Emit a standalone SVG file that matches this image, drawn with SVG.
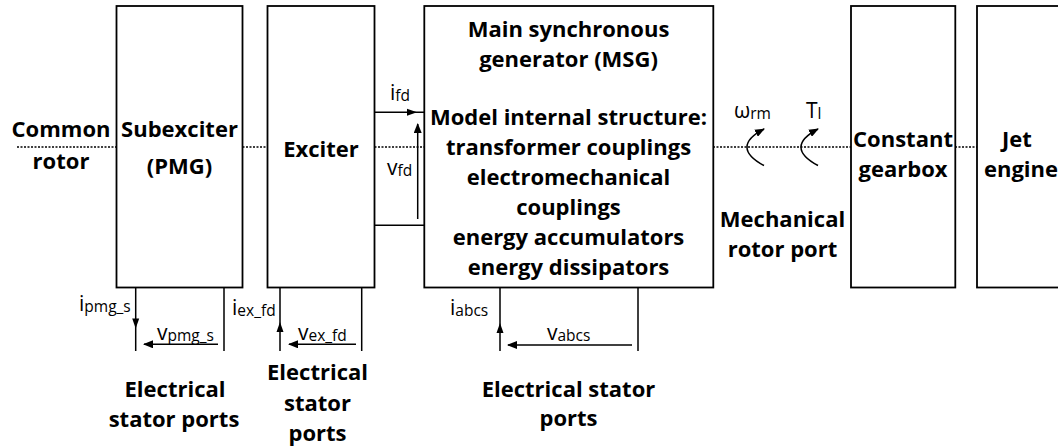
<svg xmlns="http://www.w3.org/2000/svg" width="1058" height="448" viewBox="0 0 1058 448">
<defs>
<style>
.box{fill:#fff;stroke:#000;stroke-width:1.8}
.t{font-family:"Open Sans","Liberation Sans",sans-serif;font-weight:bold;font-size:22px;fill:#000;text-anchor:middle}
.s{font-family:"Open Sans","Liberation Sans",sans-serif;font-size:21px;fill:#000}
.sub{font-size:15.5px}
.ln{stroke:#000;stroke-width:1.5;fill:none}
.dot{stroke:#000;stroke-width:1.3;stroke-dasharray:2 1.5;fill:none}
.ah{fill:#000}
</style>
<marker id="arr" viewBox="0 0 10 8" refX="9" refY="4" markerWidth="10" markerHeight="8" markerUnits="userSpaceOnUse" orient="auto">
<path d="M0,0 L10,4 L0,8 Z" fill="#000"/>
</marker>
</defs>
<rect width="1058" height="448" fill="#fff"/>
<g id="connectors">
<path class="dot" d="M17,147 H116.5 M242.5,147 H267.5 M374.5,147 H424 M713,147 H851 M955,147 H977"/>
<path class="ln" d="M374.5,112.3 H424 M374.5,225.3 H424"/>
<path class="ah" d="M417,112.3 L407,108.8 L407,115.8 Z"/>
<path class="ln" d="M417.7,219 V124" marker-end="url(#arr)"/>
<path class="ln" d="M135.7,287.5 V351 M224,287.5 V351"/>
<path class="ah" d="M135.7,328.5 L132.2,318.5 L139.2,318.5 Z"/>
<path class="ln" d="M218,344.3 H144" marker-end="url(#arr)"/>
<path class="ln" d="M280,287.5 V351 M361.7,287.5 V351"/>
<path class="ah" d="M280,322 L276.5,332 L283.5,332 Z"/>
<path class="ln" d="M356,344.3 H289" marker-end="url(#arr)"/>
<path class="ln" d="M500,287.5 V351 M638,287.5 V351"/>
<path class="ah" d="M500,323 L496.5,333 L503.5,333 Z"/>
<path class="ln" d="M632,345 H508" marker-end="url(#arr)"/>
<path class="ln" d="M764,165.5 Q730,147 764,129" marker-end="url(#arr)"/>
<path class="ln" d="M818,165.5 Q784,147 818,129" marker-end="url(#arr)"/>
</g>
<g id="common-rotor">
<text class="t" x="61" y="136.7">Common</text>
<text class="t" x="61" y="169">rotor</text>
</g>
<g id="subexciter">
<rect class="box" x="116.5" y="6" width="126" height="281.5"/>
<text class="t" x="179.5" y="136.7">Subexciter</text>
<text class="t" x="179.5" y="174">(PMG)</text>
</g>
<g id="exciter">
<rect class="box" x="267.5" y="6" width="107" height="281.5"/>
<text class="t" x="321" y="156.7">Exciter</text>
</g>
<g id="msg">
<rect class="box" x="424.3" y="6" width="289" height="281.5"/>
<text class="t" x="568.5" y="36.7">Main synchronous</text>
<text class="t" x="568.5" y="66.7">generator (MSG)</text>
<text class="t" x="568.5" y="125">Model internal structure:</text>
<text class="t" x="568.5" y="155">transformer couplings</text>
<text class="t" x="568.5" y="185">electromechanical</text>
<text class="t" x="568.5" y="215">couplings</text>
<text class="t" x="568.5" y="245">energy accumulators</text>
<text class="t" x="568.5" y="275">energy dissipators</text>
</g>
<g id="gearbox">
<rect class="box" x="851" y="6" width="104.3" height="281.5"/>
<text class="t" x="903" y="146.7">Constant</text>
<text class="t" x="903" y="176.7">gearbox</text>
</g>
<g id="jet-engine">
<rect class="box" x="977" y="6" width="90" height="281.5"/>
<text class="t" x="1017" y="146.7">Jet</text>
<text class="t" x="1021" y="176.7">engine</text>
</g>
<g id="labels">
<text class="s" x="390" y="100">i<tspan class="sub" dy="1">fd</tspan></text>
<text class="s" x="387" y="175">v<tspan class="sub" dy="1">fd</tspan></text>
<text class="s" x="79" y="311">i<tspan class="sub" dy="1">pmg_s</tspan></text>
<text class="s" x="157" y="340">v<tspan class="sub" dy="1">pmg_s</tspan></text>
<text class="s" x="232" y="315">i<tspan class="sub" dy="1">ex_fd</tspan></text>
<text class="s" x="298" y="340">v<tspan class="sub" dy="1">ex_fd</tspan></text>
<text class="s" x="450" y="315">i<tspan class="sub" dy="1">abcs</tspan></text>
<text class="s" x="547" y="340">v<tspan class="sub" dy="1">abcs</tspan></text>
<text class="s" x="734" y="118">ω<tspan class="sub" dy="1">rm</tspan></text>
<text class="s" x="806" y="118">T<tspan class="sub" dy="1">l</tspan></text>
<text class="t" x="782.5" y="226.7">Mechanical</text>
<text class="t" x="782.5" y="256.7">rotor port</text>
<text class="t" x="175" y="396.7">Electrical</text>
<text class="t" x="174" y="426.7">stator ports</text>
<text class="t" x="317.5" y="380">Electrical</text>
<text class="t" x="317.5" y="411">stator</text>
<text class="t" x="317.5" y="441">ports</text>
<text class="t" x="568.5" y="396.7">Electrical stator</text>
<text class="t" x="568.5" y="426">ports</text>
</g>
</svg>
